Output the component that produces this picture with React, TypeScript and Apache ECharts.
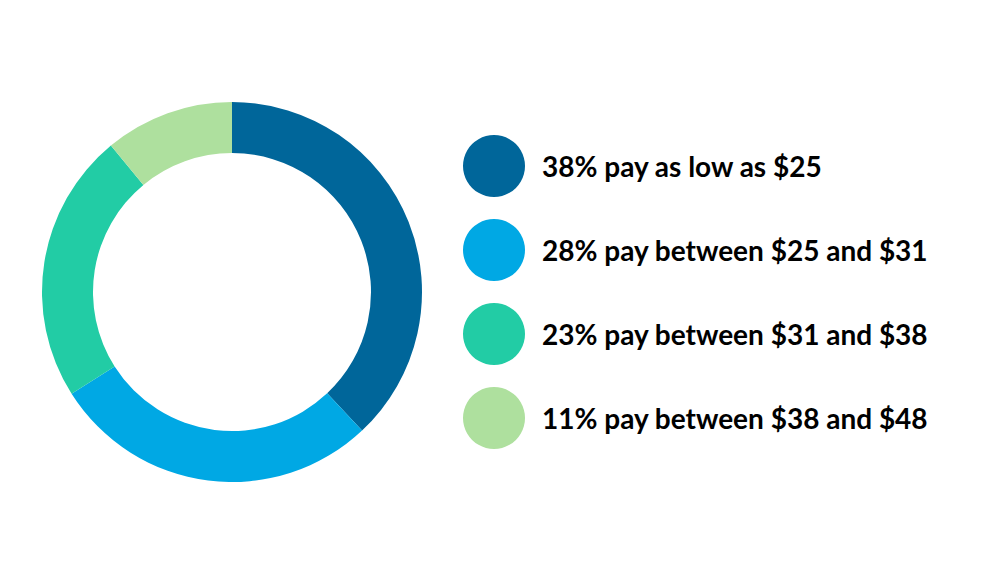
import React, { useEffect, useRef } from "react";
import * as echarts from "echarts";

const labels = [
  "38% pay as low as $25",
  "28% pay between $25 and $31",
  "23% pay between $31 and $38",
  "11% pay between $38 and $48",
];
const shares = [38, 28, 23, 11];
const colors = ["#00669a", "#00a8e4", "#22cca5", "#aee09e"];

export default function App() {
  const ref = useRef<HTMLDivElement>(null);
  useEffect(() => {
    if (!ref.current) return;
    const chart = echarts.init(ref.current, null, { renderer: "svg" });
    chart.setOption({
      animation: false,
      backgroundColor: "#ffffff",
      color: colors,
      legend: {
        orient: "vertical",
        left: 450,
        top: 122,
        icon: "circle",
        itemWidth: 62,
        itemHeight: 62,
        itemGap: 22,
        selectedMode: false,
        textStyle: {
          fontFamily: "Lato",
          fontWeight: "bold",
          fontSize: 28,
          color: "#000000",
          padding: [0, 0, 0, 12],
        },
        data: labels,
      },
      series: [
        {
          type: "pie",
          center: [224, 284],
          radius: [139, 190],
          startAngle: 90,
          clockwise: true,
          label: { show: false },
          labelLine: { show: false },
          emphasis: { disabled: true },
          itemStyle: { borderWidth: 0 },
          data: labels.map((name, i) => ({ name, value: shares[i] })),
        },
      ],
    });
    return () => chart.dispose();
  }, []);
  return <div ref={ref} style={{ width: 970, height: 554 }} />;
}
